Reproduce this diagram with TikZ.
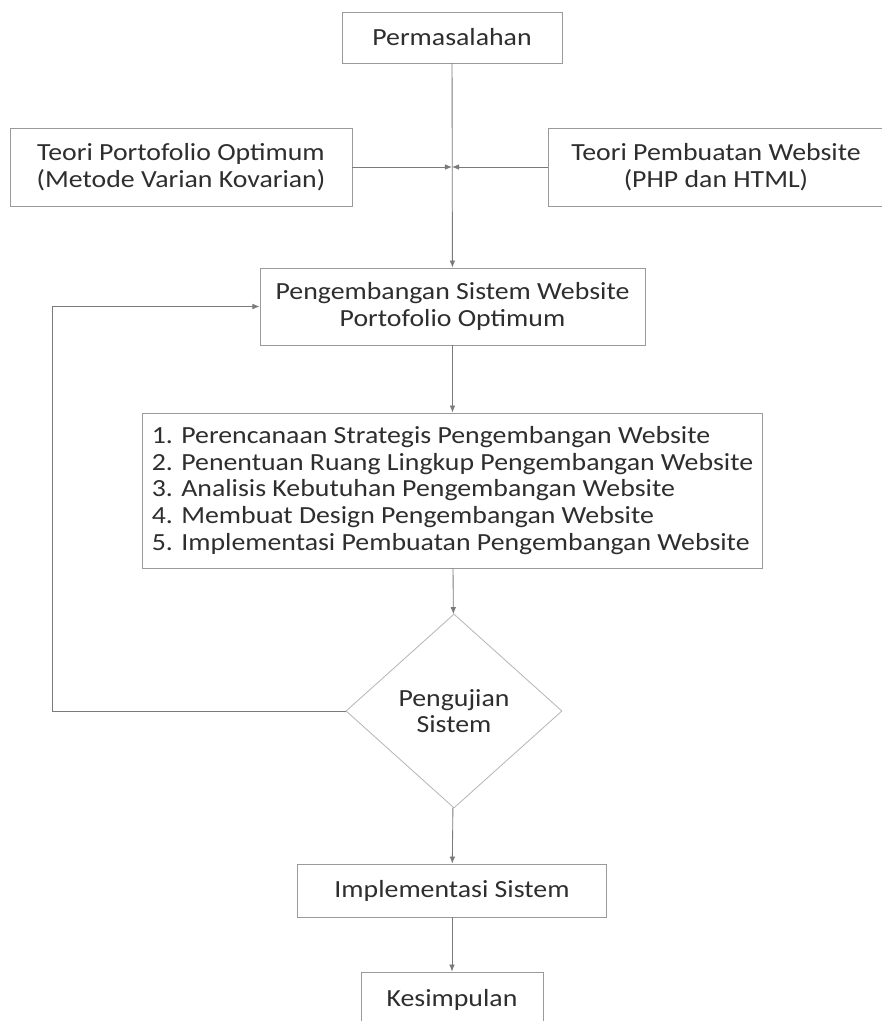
\documentclass[tikz,border=0pt]{standalone}
\usepackage{fontspec}
\setmainfont{Carlito}[FakeStretch=1.13]
\usetikzlibrary{arrows.meta, shapes.geometric}
\definecolor{garis}{HTML}{7A7A7A}
\definecolor{tepi}{HTML}{9A9A9A}
\definecolor{teks}{HTML}{2E2E2E}
\tikzset{
	kotak/.style={draw=tepi, line width=0.6pt, fill=white, align=center, inner sep=2pt,
		text=teks, font=\fontsize{17.5}{19}\selectfont},
	belah/.style={kotak, shape=diamond, draw=tepi!70, inner sep=0pt},
	panah/.style={draw=garis, line width=0.6pt, -{Latex[length=5pt,width=4pt]}}
}

\begin{document}
\begin{tikzpicture}[x=0.025cm, y=-0.025cm]
	\useasboundingbox (0,0) rectangle (882,1021);
	
	\node[kotak, minimum width=5.5cm, minimum height=1.275cm] (masalah) at (452,37.5) {Permasalahan};
	\node[kotak, minimum width=8.55cm, minimum height=1.95cm] (teoriA) at (181,167) {Teori Portofolio Optimum\\(Metode Varian Kovarian)};
	\node[kotak, minimum width=8.4cm, minimum height=1.95cm] (teoriB) at (716,167) {Teori Pembuatan Website\\(PHP dan HTML)};
	\coordinate (temu) at (452,167);
	
	\node[kotak, minimum width=9.625cm, minimum height=1.925cm] (kembang) at (452.5,306.5) {Pengembangan Sistem Website\\Portofolio Optimum};
	\node[kotak, align=left, minimum width=15.475cm, minimum height=3.875cm] (tahap) at (452.5,490.5)
		{1. Perencanaan Strategis Pengembangan Website\\
		 2. Penentuan Ruang Lingkup Pengembangan Website\\
		 3. Analisis Kebutuhan Pengembangan Website\\
		 4. Membuat Design Pengembangan Website\\
		 5. Implementasi Pembuatan Pengembangan Website};
	
	\node[belah, minimum width=5.4cm, minimum height=4.85cm] (uji) at (454,711) {Pengujian\\Sistem};
	\coordinate (balik) at (52,711);
	
	\node[kotak, minimum width=7.725cm, minimum height=1.325cm] (impl) at (452,890.5) {Implementasi Sistem};
	\node[kotak, minimum width=4.55cm, minimum height=1.4cm] (simpul) at (452,1000) {Kesimpulan};
	
	\draw[panah] (masalah) -- (kembang);
	\draw[panah] (teoriA) -- (temu);
	\draw[panah] (teoriB) -- (temu);
	\draw[panah] (kembang) -- (tahap);
	\draw[panah] (tahap) -- (uji);
	\draw[panah] (uji) -- (impl);
	\draw[panah] (impl) -- (simpul);
	\draw[panah] (uji.west) -- (balik) |- (kembang.west);
	
\end{tikzpicture}
\end{document}
